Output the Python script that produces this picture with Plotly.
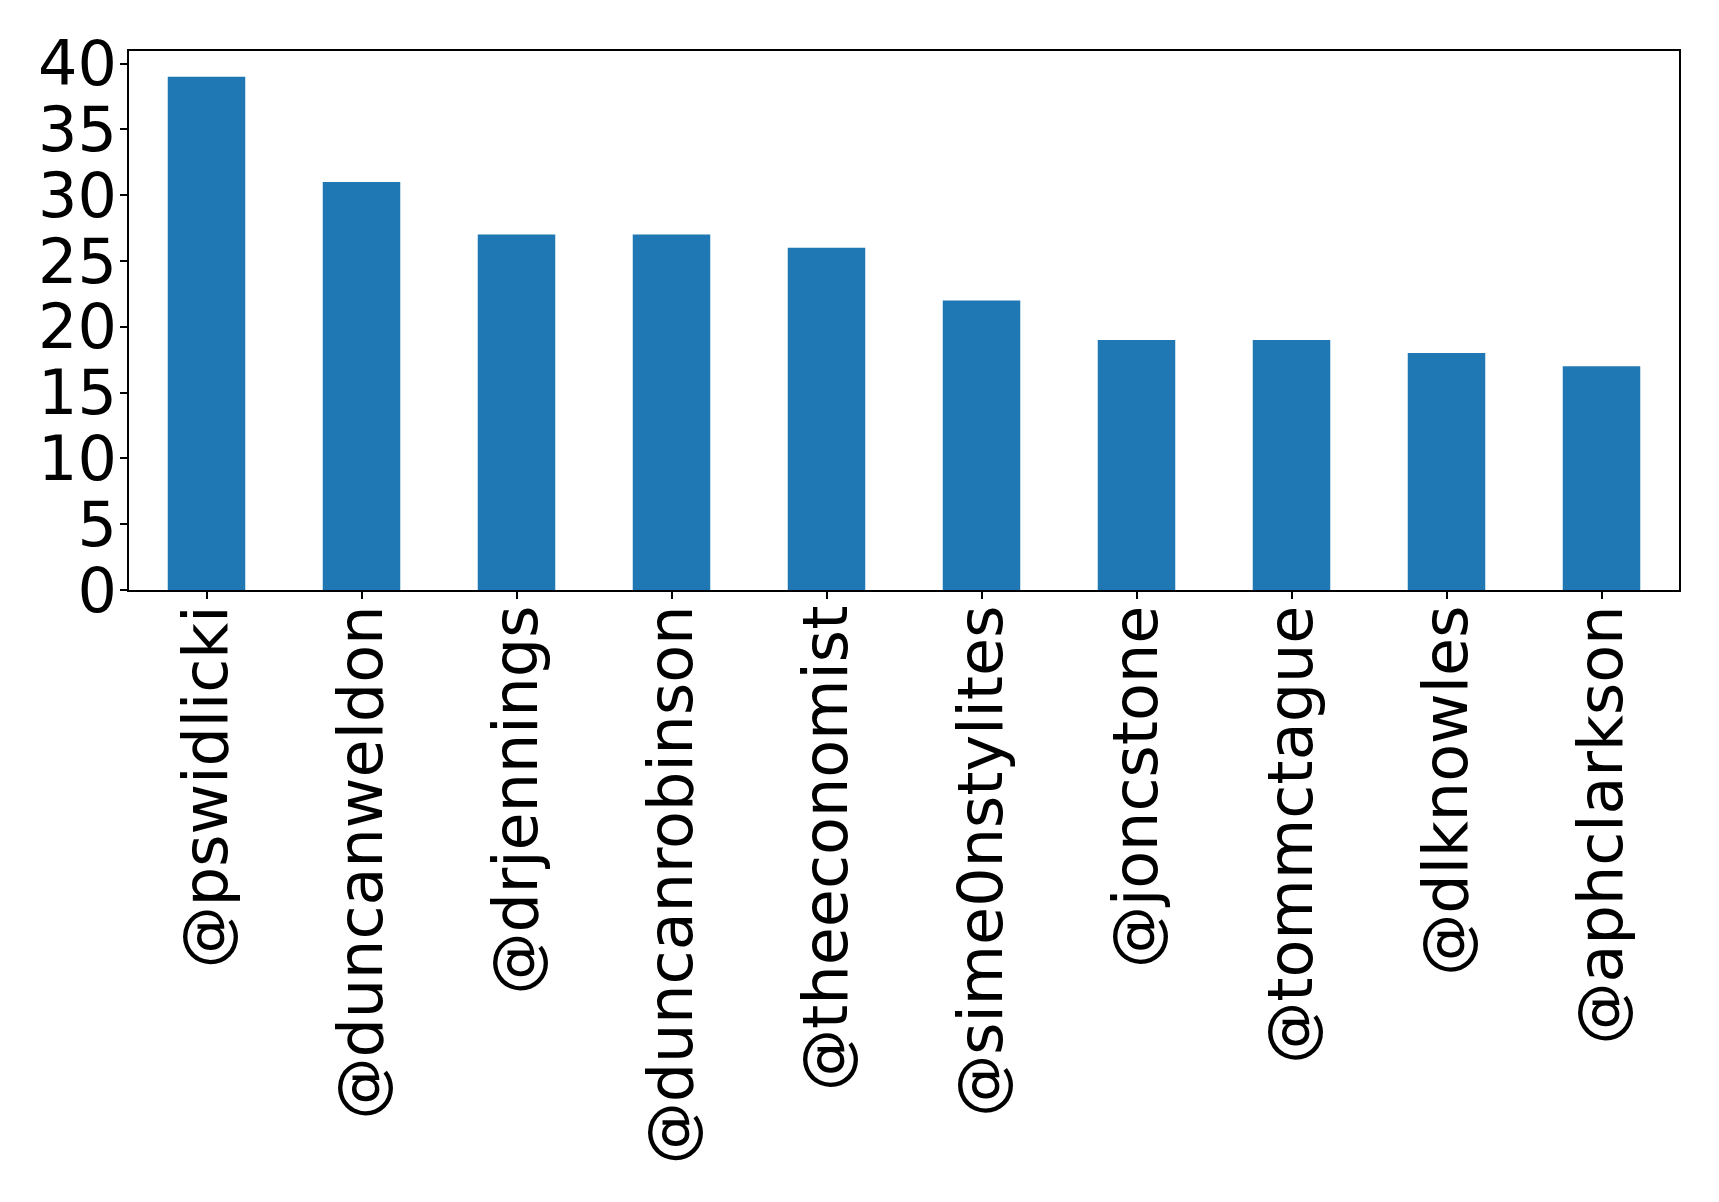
import plotly.graph_objects as go

users = ["@pswidlicki", "@duncanweldon", "@drjennings", "@duncanrobinson", "@theeconomist",
         "@sime0nstylites", "@joncstone", "@tommctague", "@dlknowles", "@aphclarkson"]
counts = [39, 31, 27, 27, 26, 22, 19, 19, 18, 17]
y_ticks = [0, 5, 10, 15, 20, 25, 30, 35, 40]

fig = go.Figure(go.Bar(x=users, y=counts, marker=dict(color="#1f77b4", line=dict(width=0)), width=0.5))

font = dict(family="DejaVu Sans", size=62, color="black")
fig.update_layout(
    width=1719, height=1202,
    margin=dict(l=121, r=48, t=43, b=620, autoexpand=False),
    plot_bgcolor="white", paper_bgcolor="white",
    showlegend=False,
    font=font,
)
fig.update_xaxes(range=[-0.5, 9.5], tickangle=-90, ticks="outside", ticklen=7, tickwidth=1.5,
                 tickcolor="black", showline=True, linecolor="black", linewidth=1.5, mirror=True,
                 showgrid=False, tickfont=font, ticklabelstandoff=-18, automargin=False)
fig.update_yaxes(range=[0, 40.95], tickvals=y_ticks, ticks="outside", ticklen=7, tickwidth=1.5,
                 tickcolor="black", showline=True, linecolor="black", linewidth=1.5, mirror=True,
                 showgrid=False, zeroline=False, tickfont=font, ticklabelstandoff=-9, automargin=False)
fig.write_html("out.html")
